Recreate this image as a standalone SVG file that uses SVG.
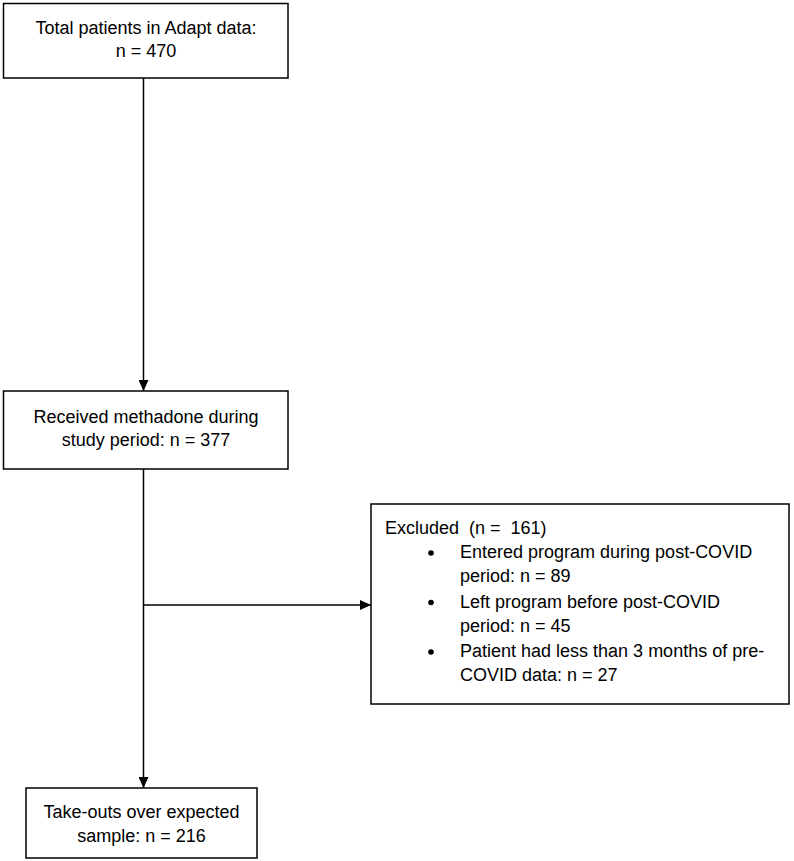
<svg xmlns="http://www.w3.org/2000/svg" width="794" height="861" viewBox="0 0 794 861">
<style>
.box{fill:#fff;stroke:#000;stroke-width:1.5}
.t{font-family:"Liberation Sans",Arial,sans-serif;font-size:18px;fill:#000}
.c{text-anchor:middle}
.ln{stroke:#000;stroke-width:1.5;fill:none}
</style>
<defs>
<marker id="ah" markerWidth="11" markerHeight="10" refX="11" refY="5" orient="auto" markerUnits="userSpaceOnUse">
<path d="M0,0 L11,5 L0,10 Z" fill="#000"/>
</marker>
</defs>
<g id="connectors">
<line class="ln" x1="143.5" y1="78" x2="143.5" y2="391" marker-end="url(#ah)"/>
<line class="ln" x1="143.5" y1="469" x2="143.5" y2="788" marker-end="url(#ah)"/>
<line class="ln" x1="143.5" y1="605" x2="371" y2="605" marker-end="url(#ah)"/>
</g>
<g id="total">
<rect class="box" x="3.5" y="3.5" width="284.5" height="74.5"/>
<text class="t c" x="146" y="34">Total patients in Adapt data:</text>
<text class="t c" x="146" y="57">n = 470</text>
</g>
<g id="methadone">
<rect class="box" x="3.5" y="391" width="284.5" height="78"/>
<text class="t c" x="146" y="422.5">Received methadone during</text>
<text class="t c" x="146" y="445.5">study period: n = 377</text>
</g>
<g id="excluded">
<rect class="box" x="371" y="504" width="418" height="200"/>
<text class="t" x="385" y="534" xml:space="preserve">Excluded  (n =  161)</text>
<circle cx="431" cy="553" r="2.8" fill="#000"/>
<text class="t" x="460" y="558">Entered program during post-COVID</text>
<text class="t" x="460" y="582">period: n = 89</text>
<circle cx="431" cy="602.5" r="2.8" fill="#000"/>
<text class="t" x="460" y="607.5">Left program before post-COVID</text>
<text class="t" x="460" y="632">period: n = 45</text>
<circle cx="431" cy="652" r="2.8" fill="#000"/>
<text class="t" x="460" y="657">Patient had less than 3 months of pre-</text>
<text class="t" x="460" y="681">COVID data: n = 27</text>
</g>
<g id="takeouts">
<rect class="box" x="26" y="788" width="231" height="70"/>
<text class="t c" x="141.5" y="818">Take-outs over expected</text>
<text class="t c" x="141.5" y="842">sample: n = 216</text>
</g>
</svg>
